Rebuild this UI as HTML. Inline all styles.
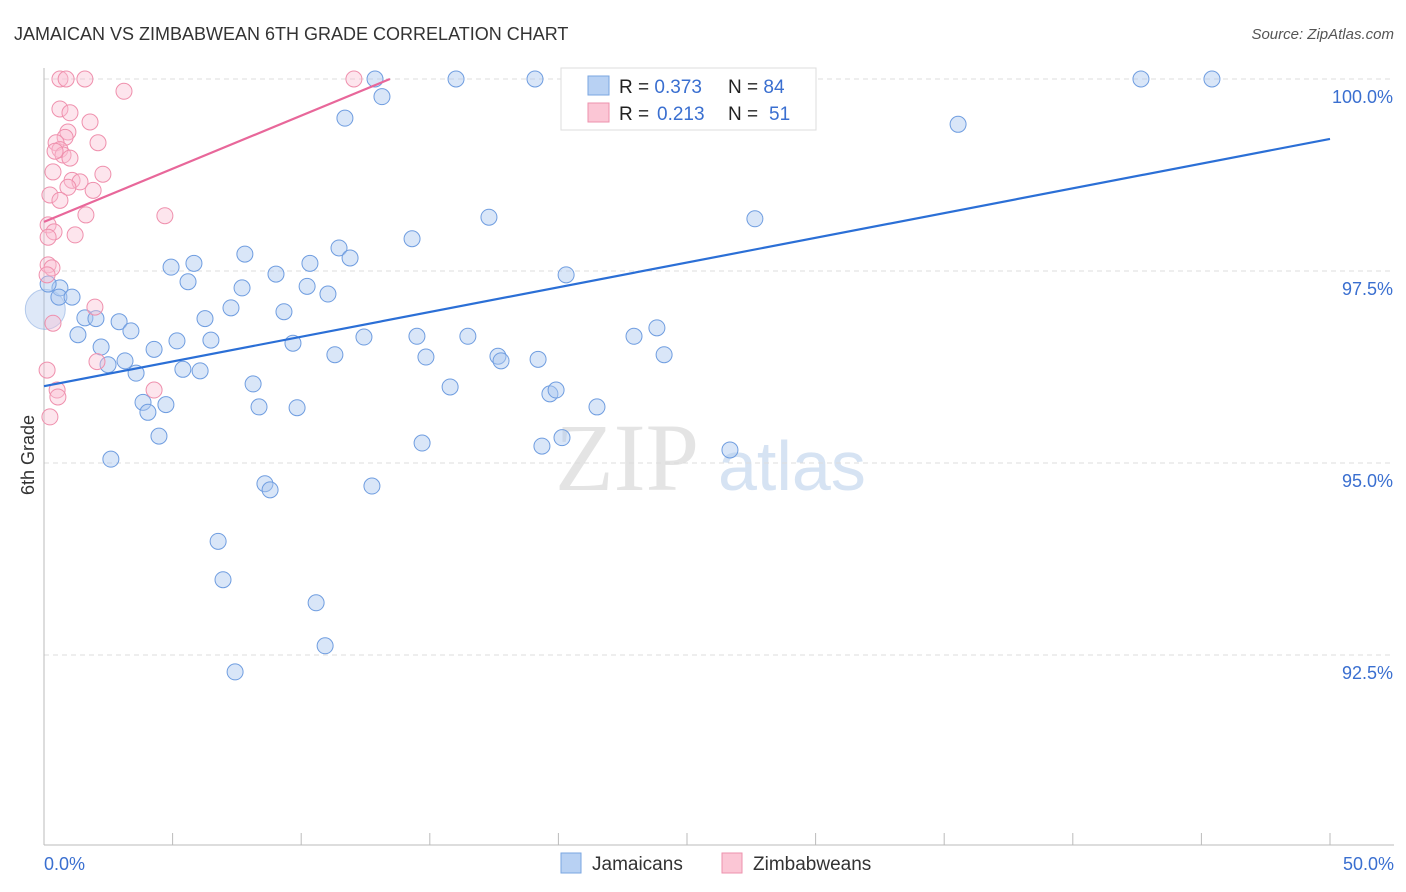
<!DOCTYPE html>
<html><head><meta charset="utf-8"><style>
body{margin:0;background:#fff;font-family:"Liberation Sans",sans-serif;}
svg{display:block}
</style></head><body>
<svg id="c" width="1406" height="892">
<text x="14" y="40" font-size="18" fill="#333">JAMAICAN VS ZIMBABWEAN 6TH GRADE CORRELATION CHART</text>
<text x="1394" y="39" font-size="15" fill="#555" font-style="italic" text-anchor="end">Source: ZipAtlas.com</text>
<text transform="translate(34,455) rotate(-90)" font-size="18" fill="#333" text-anchor="middle">6th Grade</text>
<g><text x="555" y="490" font-size="96" fill="#e4e4e4" font-family="Liberation Serif,serif">ZIP</text><text x="718" y="490" font-size="70" fill="#d6e3f3">atlas</text></g>
<g id="grid"></g><g id="marks"></g>
<g>
<rect x="561" y="68" width="255" height="62" fill="#fff" stroke="#ddd"/>
<rect x="588" y="76" width="21" height="19" fill="#b8d1f3" stroke="#7aa6e0"/>
<rect x="588" y="103" width="21" height="19" fill="#fbc6d5" stroke="#ee92ad"/>
<text x="619" y="93" font-size="19" fill="#222">R = <tspan fill="#3a6fd0">0.373</tspan><tspan x="728">N = </tspan><tspan fill="#3a6fd0">84</tspan></text>
<text x="619" y="120" font-size="19" fill="#222">R = <tspan x="657" fill="#3a6fd0">0.213</tspan><tspan x="728">N = </tspan><tspan x="769" fill="#3a6fd0">51</tspan></text>
</g>
<g>
<rect x="561" y="853" width="20" height="20" fill="#b8d1f3" stroke="#7aa6e0"/>
<text x="592" y="870" font-size="19" fill="#333">Jamaicans</text>
<rect x="722" y="853" width="20" height="20" fill="#fbc6d5" stroke="#ee92ad"/>
<text x="753" y="870" font-size="19" fill="#333">Zimbabweans</text>
</g>
</svg>
<script>
const yTicks=[100,97.5,95,92.5];
const yTickLabels=["100.0%","97.5%","95.0%","92.5%"];
const xEnds=["0.0%","50.0%"];
const blueX=[12.87,16.02,19.09,26.56,28.62,42.65,45.41,13.14,11.70,35.54,17.30,27.64,14.31,11.47,7.81,11.90,4.94,5.83,10.34,9.02,20.30,5.60,7.70,10.23,11.04,0.62,0.16,0.58,1.09,7.27,9.33,1.59,2.02,2.92,3.38,6.26,1.32,5.17,6.49,9.68,12.44,14.50,16.48,22.94,23.83,2.22,4.28,3.15,2.49,3.58,5.40,6.07,11.31,14.85,17.65,17.77,19.21,24.11,8.13,15.79,19.67,19.91,3.85,4.74,4.04,8.36,9.84,21.50,4.47,14.70,19.36,20.14,26.67,2.60,8.59,8.79,12.75,6.77,6.96,10.58,10.93,7.43];
const blueY=[100,100,100,100,100,100,100,99.77,99.49,99.41,98.20,98.18,97.92,97.80,97.72,97.67,97.55,97.60,97.60,97.46,97.45,97.36,97.28,97.30,97.20,97.28,97.33,97.16,97.16,97.02,96.97,96.89,96.88,96.84,96.72,96.88,96.67,96.59,96.60,96.56,96.64,96.65,96.65,96.65,96.76,96.51,96.48,96.33,96.28,96.17,96.22,96.20,96.41,96.38,96.39,96.33,96.35,96.41,96.03,95.99,95.90,95.95,95.79,95.76,95.66,95.73,95.72,95.73,95.35,95.26,95.22,95.33,95.17,95.05,94.73,94.65,94.70,93.98,93.48,93.18,92.62,92.28];
const pinkX=[0.62,0.86,1.59,12.05,3.11,0.62,1.01,1.79,0.93,0.82,2.10,0.47,0.62,0.74,1.01,0.43,2.29,0.35,1.09,1.40,1.91,0.93,0.23,0.62,1.63,4.70,0.16,0.39,1.21,0.16,0.16,0.31,0.12,1.98,0.35,2.06,0.12,0.51,4.28,0.54,0.23];
const pinkY=[100,100,100,100,99.84,99.61,99.56,99.44,99.31,99.24,99.17,99.17,99.08,99.01,98.97,99.06,98.76,98.79,98.68,98.66,98.55,98.59,98.49,98.42,98.23,98.22,98.10,98.01,97.97,97.94,97.58,97.54,97.45,97.03,96.82,96.32,96.21,95.95,95.95,95.86,95.60];
const blueFit=[96.00,99.22];
const pinkFit=[98.14,100,13.45];
const sx=v=>44+v/50*1286, sy=v=>79+(100-v)/2.5*192;
const NS="http://www.w3.org/2000/svg";
function mk(t,a,p){const e=document.createElementNS(NS,t);for(const k in a)e.setAttribute(k,a[k]);p.appendChild(e);return e;}
const g=document.getElementById('grid'),m=document.getElementById('marks');
yTicks.forEach((t,i)=>{
 const l=mk('line',{x1:44,x2:1394,y1:sy(t),y2:sy(t),stroke:'#ddd','stroke-dasharray':'5,4'},g);
 
 
 const tx=mk('text',{x:1393,y:sy(t)+24,'font-size':18,fill:'#3a6fd0','text-anchor':'end'},g);tx.textContent=yTickLabels[i];
 
 
});
mk('line',{x1:44,x2:44,y1:68,y2:845,stroke:'#bbb'},g);
mk('line',{x1:44,x2:1394,y1:845,y2:845,stroke:'#bbb'},g);
for(let i=0;i<=10;i++){const t=mk('line',{x1:sx(i*5),x2:sx(i*5),y1:833,y2:845,stroke:'#bbb'},g);
 
 }
[[0,"start",44],[1,"end",1394]].forEach(([i,a,x])=>{const t=mk('text',{x:x,y:870,'font-size':18,fill:'#3a6fd0','text-anchor':a},g);t.textContent=xEnds[i];
 
 });
const big=mk('circle',{cx:sx(0.05),cy:sy(97.0),r:20,fill:'rgba(160,190,235,0.35)',stroke:'rgba(120,160,220,0.5)'},m);


blueX.forEach((x,i)=>{const c=mk('circle',{cx:sx(x),cy:sy(blueY[i]),r:8,fill:'rgba(170,200,240,0.45)',stroke:'#6f9de0','stroke-width':1},m);
 
 });
pinkX.forEach((x,i)=>{const c=mk('circle',{cx:sx(x),cy:sy(pinkY[i]),r:8,fill:'rgba(250,190,210,0.4)',stroke:'#ef90ad','stroke-width':1},m);
 
 });
const bl=mk('line',{x1:sx(0),y1:sy(blueFit[0]),x2:sx(50),y2:sy(blueFit[1]),stroke:'#2b6fd6','stroke-width':2.2},m);


const pl=mk('line',{x1:sx(0),y1:sy(pinkFit[0]),x2:sx(pinkFit[2]),y2:sy(pinkFit[1]),stroke:'#e8679a','stroke-width':2.2},m);


</script>
</body></html>
